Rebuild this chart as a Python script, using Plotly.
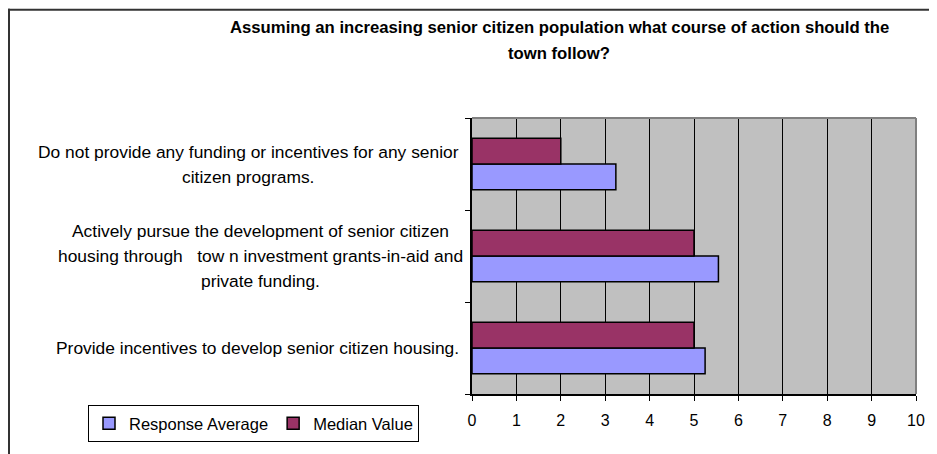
import plotly.graph_objects as go

title_lines = [
    "Assuming an increasing senior citizen population what course of action should the",
    "town follow?",
]
categories = [
    "Provide incentives to develop senior citizen housing.",
    "Actively pursue the development of senior citizen<br>housing through   tow n investment grants-in-aid and<br>private funding.",
    "Do not provide any funding or incentives for any senior<br>citizen programs.",
]
cat_keys = ["c1", "c2", "c3"]
response_average = [5.25, 5.55, 3.24]
median_value = [5.0, 5.0, 2.0]
x_ticks = [0, 1, 2, 3, 4, 5, 6, 7, 8, 9, 10]

FONT = "Liberation Sans, Arial, sans-serif"
OFF = 8  # page body margin
W, H = 937 - OFF, 454 - OFF
L, R, T, B = 472 - OFF, 21, 118 - OFF, 58
pw, ph = W - L - R, H - T - B

def px_x(p):  # page pixel -> paper x
    return (p - OFF - L) / pw

def px_y(p):  # page pixel -> paper y
    return (H - B - (p - OFF)) / ph

fig = go.Figure()
fig.add_trace(go.Bar(
    y=cat_keys, x=response_average, orientation="h", name="Response Average",
    marker=dict(color="#9999FF", line=dict(color="black", width=1.5)),
))
fig.add_trace(go.Bar(
    y=cat_keys, x=median_value, orientation="h", name="Median Value",
    marker=dict(color="#993366", line=dict(color="black", width=1.5)),
))

label_centers_px = [257, 260, 248]
LINE_H = 25
annotations = []
for key, lab, cx in zip(cat_keys, categories, label_centers_px):
    lines = lab.split("<br>")
    n = len(lines)
    for i, ln in enumerate(lines):
        annotations.append(dict(
            x=px_x(cx), xref="paper", y=key, yref="y", text=ln.replace("   ", "&nbsp;&nbsp;&nbsp;"),
            showarrow=False, xanchor="center", yanchor="middle",
            yshift=((n - 1) / 2 - i) * LINE_H,
            font=dict(family=FONT, size=17.4, color="black"),
        ))
for i, tl in enumerate(title_lines):
    annotations.append(dict(
        x=px_x(559), xref="paper", y=px_y(27 + 26 * i), yref="paper", text="<b>" + tl + "</b>",
        showarrow=False, xanchor="center", yanchor="middle",
        font=dict(family=FONT, size=16.7, color="black"),
    ))

shapes = [
    dict(type="line", xref="paper", yref="paper", x0=0, x1=1, y0=1, y1=1,
         line=dict(color="#808080", width=2), layer="above"),
    dict(type="line", xref="paper", yref="paper", x0=1, x1=1, y0=0, y1=1,
         line=dict(color="#808080", width=2), layer="above"),
    dict(type="line", xref="paper", yref="paper", x0=px_x(8), x1=px_x(945),
         y0=px_y(9), y1=px_y(9), line=dict(color="#333333", width=2)),
    dict(type="line", xref="paper", yref="paper", x0=px_x(9), x1=px_x(9),
         y0=px_y(8), y1=px_y(470), line=dict(color="#333333", width=2)),
]

fig.update_layout(
    width=W, height=H,
    margin=dict(l=L, r=R, t=T, b=B),
    paper_bgcolor="white", plot_bgcolor="#C0C0C0",
    barmode="group", bargap=0.44, bargroupgap=0,
    font=dict(family=FONT, size=16, color="black"),
    showlegend=True,
    legend=dict(
        orientation="h", x=px_x(88), y=px_y(407), xanchor="left", yanchor="top",
        bordercolor="black", borderwidth=1, bgcolor="white",
        font=dict(family=FONT, size=16.5), traceorder="normal",
        itemwidth=30, tracegroupgap=0,
    ),
    xaxis=dict(
        range=[0, 10], tickvals=x_ticks, ticktext=[str(v) for v in x_ticks],
        showgrid=True, gridcolor="black", gridwidth=1, zeroline=False,
        showline=True, linecolor="black", linewidth=1.5,
        ticks="outside", ticklen=5, tickcolor="black", ticklabelstandoff=6,
        tickfont=dict(family=FONT, size=16), fixedrange=True,
    ),
    yaxis=dict(
        categoryorder="array", categoryarray=cat_keys,
        showticklabels=False, ticks="outside", ticklen=5, tickcolor="black",
        tickson="boundaries", showgrid=False, zeroline=False,
        showline=True, linecolor="black", linewidth=1.5, fixedrange=True,
    ),
    annotations=annotations, shapes=shapes,
)

fig.write_html("out.html")
